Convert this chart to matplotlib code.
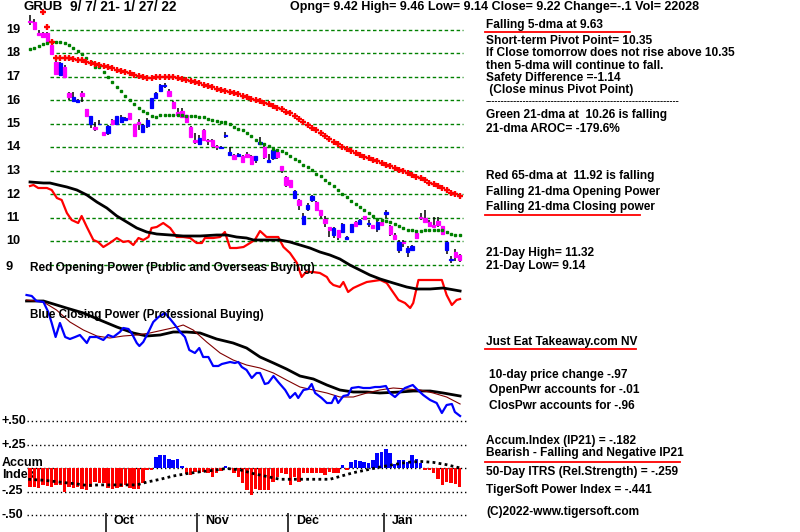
import matplotlib
matplotlib.use("Agg")
import matplotlib.pyplot as plt
from matplotlib.lines import Line2D

# ---------------- data ----------------
ticker = "GRUB"
date_range = "9/ 7/ 21- 1/ 27/ 22"
quote_line = "Opng= 9.42 High= 9.46 Low= 9.14 Close= 9.22 Change=-.1 Vol= 22028"

opens = [19.40, 19.35, 18.88, 18.86, 18.86, 18.36, 17.65, 17.08, 17.44, 16.33,
         15.99, 15.92, 16.33, 15.63, 15.02, 14.88, 14.98, 14.64, 14.60, 15.16,
         15.00, 15.10, 15.18, 15.45, 14.98, 15.10, 14.66, 14.90, 15.66, 16.09,
         16.41, 16.62, 16.41, 15.94, 15.52, 15.55, 15.38, 14.88, 14.34, 14.17,
         14.76, 14.32, 14.34, 14.08, 13.98, 14.50, 13.70, 13.67, 13.65, 13.64,
         13.72, 13.63, 13.45, 14.14, 14.00, 13.40, 13.57, 13.81, 13.20, 12.74,
         12.60, 11.87, 11.78, 10.75, 11.40, 11.75, 11.68, 11.32, 10.94, 10.60,
         10.26, 10.47, 10.40, 10.12, 10.40, 10.83, 10.76, 11.07, 10.74, 10.70,
         10.54, 10.83, 11.18, 10.64, 10.26, 9.62, 9.98, 9.55, 9.62, 10.36,
         11.05, 11.02, 10.85, 10.72, 10.86, 10.64, 9.65, 9.20, 9.55, 9.42]
closes = [19.33, 19.04, 18.80, 18.70, 18.50, 18.00, 17.11, 17.60, 17.00, 16.16,
          16.16, 16.02, 16.20, 15.35, 15.33, 14.78, 15.02, 14.52, 14.93, 14.99,
          15.33, 15.30, 15.24, 15.23, 14.50, 15.00, 14.95, 15.19, 16.09, 16.33,
          16.65, 16.68, 16.20, 15.66, 15.37, 15.30, 15.09, 14.45, 14.24, 14.42,
          14.34, 14.28, 14.05, 14.02, 14.04, 14.55, 13.81, 13.49, 13.72, 13.38,
          13.60, 13.29, 13.63, 14.24, 13.60, 13.48, 13.88, 13.60, 13.05, 12.39,
          12.32, 12.15, 11.54, 11.07, 11.54, 11.93, 11.32, 11.11, 10.80, 10.48,
          10.57, 10.19, 10.73, 10.18, 10.73, 10.66, 10.93, 10.95, 10.80, 10.56,
          10.83, 10.70, 11.24, 10.30, 10.09, 9.97, 9.92, 9.74, 9.80, 10.14,
          10.98, 10.85, 10.68, 10.60, 10.70, 10.30, 9.97, 9.25, 9.32, 9.22]
highs = [19.64, 19.45, 19.00, 18.90, 18.90, 18.40, 17.72, 17.65, 17.50, 16.37,
         16.37, 16.05, 16.40, 15.65, 15.36, 15.10, 15.15, 14.66, 14.95, 15.20,
         15.36, 15.38, 15.30, 15.47, 15.00, 15.20, 15.00, 15.25, 16.12, 16.36,
         16.72, 16.75, 16.51, 15.98, 15.66, 15.66, 15.40, 14.90, 14.60, 14.54,
         14.78, 14.38, 14.38, 14.10, 14.06, 14.66, 14.03, 13.72, 13.75, 13.66,
         13.80, 13.66, 13.65, 14.45, 14.05, 13.74, 13.92, 13.88, 13.22, 12.80,
         12.62, 12.20, 11.80, 11.20, 11.62, 11.97, 11.72, 11.34, 11.10, 10.62,
         10.60, 10.50, 10.78, 10.25, 10.76, 10.86, 10.96, 11.10, 10.90, 10.72,
         10.95, 10.88, 11.32, 10.72, 10.36, 10.06, 10.05, 9.80, 9.84, 10.40,
         11.20, 11.32, 10.90, 11.03, 11.05, 10.68, 10.02, 9.40, 9.69, 9.46]
lows = [19.21, 18.98, 18.78, 18.64, 18.45, 17.95, 17.08, 17.05, 16.98, 16.00,
        15.97, 15.88, 15.95, 15.30, 14.85, 14.70, 14.95, 14.48, 14.55, 14.95,
        14.98, 15.05, 15.15, 15.20, 14.50, 14.75, 14.60, 14.85, 15.62, 16.05,
        16.38, 16.55, 16.18, 15.62, 15.30, 15.28, 15.05, 14.42, 14.17, 14.12,
        14.30, 14.10, 14.00, 13.90, 13.96, 14.42, 13.67, 13.45, 13.60, 13.35,
        13.56, 13.27, 13.34, 14.10, 13.50, 13.38, 13.45, 13.50, 12.90, 12.32,
        12.30, 11.85, 11.32, 10.70, 11.30, 11.68, 11.28, 11.00, 10.62, 10.20,
        10.15, 10.07, 10.35, 10.08, 10.38, 10.62, 10.74, 10.90, 10.62, 10.52,
        10.40, 10.66, 10.98, 10.22, 10.05, 9.50, 9.75, 9.36, 9.58, 10.10,
        10.90, 10.80, 10.60, 10.57, 10.62, 10.28, 9.45, 9.10, 9.15, 9.14]

ma21 = [18.18, 18.25, 18.33, 18.39, 18.46, 18.47, 18.50, 18.50, 18.46, 18.36,
        18.25, 18.12, 17.98, 17.82, 17.62, 17.44, 17.41, 17.22, 17.01, 16.80,
        16.58, 16.40, 16.20, 16.01, 15.84, 15.69, 15.55, 15.45, 15.35, 15.30,
        15.38, 15.40, 15.40, 15.38, 15.40, 15.38, 15.35, 15.35, 15.33, 15.30,
        15.30, 15.23, 15.16, 15.12, 15.09, 15.07, 14.99, 14.88, 14.80, 14.74,
        14.60, 14.48, 14.31, 14.20, 14.14, 14.05, 13.95, 13.88, 13.85, 13.77,
        13.63, 13.53, 13.43, 13.27, 13.17, 13.03, 12.88, 12.77, 12.60, 12.48,
        12.35, 12.18, 12.04, 11.89, 11.72, 11.58, 11.46, 11.32, 11.21, 11.07,
        10.97, 10.90, 10.86, 10.83, 10.76, 10.64, 10.57, 10.50, 10.47, 10.44,
        10.44, 10.50, 10.50, 10.50, 10.50, 10.47, 10.40, 10.33, 10.29, 10.26]
ma65 = [None, None, None, 19.78, 19.14, 18.50, 17.82, 17.82, 17.82, 17.79,
        17.76, 17.73, 17.71, 17.65, 17.58, 17.55, 17.51, 17.46, 17.41, 17.37,
        17.31, 17.27, 17.20, 17.15, 17.08, 17.04, 17.01, 16.97, 16.97, 17.00,
        17.01, 17.01, 17.00, 16.98, 16.95, 16.92, 16.88, 16.84, 16.79, 16.74,
        16.68, 16.63, 16.57, 16.51, 16.46, 16.41, 16.36, 16.31, 16.26, 16.20,
        16.15, 16.08, 16.02, 15.97, 15.90, 15.84, 15.76, 15.70, 15.62, 15.52,
        15.45, 15.35, 15.23, 15.09, 14.95, 14.83, 14.74, 14.62, 14.50, 14.35,
        14.24, 14.14, 14.02, 13.92, 13.84, 13.77, 13.67, 13.60, 13.55, 13.46,
        13.41, 13.34, 13.27, 13.20, 13.13, 13.03, 13.00, 12.92, 12.84, 12.74,
        12.70, 12.60, 12.50, 12.46, 12.36, 12.28, 12.20, 12.08, 12.00, 11.92]
price_ticks = [19, 18, 17, 16, 15, 14, 13, 12, 11, 10, 9]

# Opening power (red) and its moving average (black)
op_days = [0, 0.8, 1.9, 3.9, 5.0, 6.2, 7.3, 8.5, 9.6, 11.1, 11.9, 13.1, 14.6, 15.7, 16.9,
           18.4, 20.0, 21.5, 22.7, 23.8, 25.0, 26.1, 27.3, 28.0, 29.2, 30.7, 32.3, 33.8,
           35.3, 36.9, 38.4, 39.6, 40.3, 42.2, 43.8, 44.9, 46.1, 47.6, 49.2, 50.7, 51.8,
           53.0, 54.5, 56.1, 57.2, 58.4, 59.9, 61.5, 62.6, 63.6, 65.2, 66.8, 68.4, 69.1,
           69.9, 71.4, 72.2, 73.3, 74.5, 76.0, 77.6, 80.7, 82.2, 83.3, 84.9, 86.4, 87.6,
           88.3, 89.5, 92.9, 94.9, 96.0, 97.2, 98.3, 99.1]
op_vals = [1.14, 1.15, 1.12, 1.12, 1.10, 1.02, 1.00, 0.87, 0.80, 0.77, 0.84, 0.73, 0.60,
           0.58, 0.53, 0.57, 0.62, 0.58, 0.59, 0.55, 0.62, 0.60, 0.63, 0.72, 0.73, 0.77,
           0.72, 0.63, 0.63, 0.62, 0.57, 0.57, 0.62, 0.62, 0.63, 0.68, 0.52, 0.52, 0.53,
           0.57, 0.60, 0.69, 0.63, 0.63, 0.63, 0.53, 0.47, 0.37, 0.23, 0.28, 0.28, 0.27,
           0.23, 0.18, 0.15, 0.13, 0.18, 0.08, 0.12, 0.15, 0.18, 0.20, 0.17, 0.10, 0.00,
           -0.03, -0.08, -0.03, 0.20, 0.20, 0.20, 0.05, -0.05, 0.00, 0.01]
opma_days = [0, 3.1, 4.6, 6.5, 8.5, 10.8, 13.1, 15.4, 17.7, 20.0, 22.3, 24.6, 26.9, 29.2,
             32.3, 35.3, 39.2, 43.0, 45.3, 47.6, 49.9, 51.5, 54.5, 57.6, 59.9, 62.2, 64.5,
             66.8, 69.1, 71.4, 73.7, 76.0, 78.3, 80.7, 83.7, 86.8, 89.1, 92.2, 95.2, 99.1]
opma_vals = [1.18, 1.17, 1.17, 1.15, 1.13, 1.10, 1.05, 0.98, 0.92, 0.84, 0.78, 0.72, 0.68,
             0.66, 0.65, 0.64, 0.64, 0.65, 0.65, 0.63, 0.62, 0.60, 0.60, 0.60, 0.58, 0.55,
             0.52, 0.48, 0.45, 0.41, 0.35, 0.30, 0.25, 0.21, 0.17, 0.13, 0.11, 0.11, 0.12, 0.09]

# Closing power (blue), its fast (brown) and slow (black) averages
cp_days = [-0.8, 0.4, 1.5, 3.1, 4.2, 5.0, 5.9, 6.9, 8.1, 9.2, 10.4, 11.5, 13.1, 13.8, 15.4,
           16.9, 18.0, 19.2, 20.7, 21.5, 22.7, 23.4, 24.6, 25.2, 26.1, 27.3, 28.4, 29.6,
           31.1, 32.3, 33.4, 34.6, 35.7, 36.7, 38.0, 39.0, 39.9, 41.1, 42.2, 43.4, 44.2,
           46.1, 47.2, 48.0, 48.8, 49.9, 51.1, 52.2, 53.0, 54.1, 54.9, 56.1, 57.2, 58.8,
           59.9, 61.1, 61.8, 63.0, 64.1, 64.9, 65.7, 67.2, 68.4, 69.5, 70.3, 71.0, 72.2,
           73.3, 74.1, 75.7, 76.8, 78.3, 79.5, 80.6, 82.0, 82.9, 84.1, 85.3, 86.4, 88.2,
           89.1, 90.6, 92.2, 93.7, 94.9, 96.0, 97.2, 97.9, 99.1]
cp_vals = [1.25, 1.24, 1.19, 1.18, 1.08, 0.97, 0.83, 0.97, 0.83, 0.81, 0.83, 0.85, 0.77,
           0.83, 0.83, 0.80, 0.85, 0.83, 0.88, 0.92, 0.91, 0.87, 0.77, 0.74, 0.78, 0.88,
           0.98, 1.03, 1.07, 1.01, 0.95, 0.88, 0.83, 0.70, 0.67, 0.72, 0.63, 0.63, 0.54,
           0.54, 0.56, 0.58, 0.57, 0.58, 0.53, 0.50, 0.42, 0.47, 0.47, 0.36, 0.37, 0.44,
           0.38, 0.30, 0.22, 0.27, 0.22, 0.30, 0.31, 0.36, 0.27, 0.22, 0.17, 0.17, 0.24,
           0.17, 0.24, 0.25, 0.32, 0.33, 0.32, 0.32, 0.33, 0.33, 0.34, 0.27, 0.23, 0.28,
           0.32, 0.35, 0.31, 0.25, 0.20, 0.17, 0.07, 0.15, 0.16, 0.08, 0.04]
cpslow_days = [-0.8, 3.1, 5.4, 8.4, 12.3, 16.1, 20.0, 23.8, 26.9, 30.0, 33.0, 36.1, 39.2,
               43.0, 46.8, 49.9, 53.0, 56.1, 59.1, 62.2, 65.3, 68.4, 71.4, 74.5, 77.6,
               80.6, 85.3, 88.3, 92.2, 95.2, 99.1]
cpslow_vals = [1.19, 1.19, 1.16, 1.12, 1.07, 1.00, 0.93, 0.87, 0.84, 0.85, 0.88, 0.88, 0.87,
               0.81, 0.77, 0.72, 0.63, 0.57, 0.51, 0.44, 0.41, 0.35, 0.30, 0.28, 0.28, 0.27,
               0.28, 0.29, 0.29, 0.27, 0.24]
cpfast_days = [-0.8, 3.1, 6.1, 9.2, 12.3, 15.4, 18.4, 21.5, 24.6, 27.6, 30.7, 33.8, 35.3,
               37.6, 40.7, 43.8, 46.8, 49.9, 53.0, 56.1, 59.1, 62.2, 65.3, 68.4, 71.4, 74.5,
               77.6, 80.6, 83.7, 86.8, 89.9, 92.9, 96.0, 99.1]
cpfast_vals = [1.20, 1.18, 1.10, 0.98, 0.90, 0.84, 0.82, 0.84, 0.85, 0.87, 0.90, 0.93, 0.95,
               0.90, 0.78, 0.67, 0.60, 0.55, 0.52, 0.47, 0.40, 0.33, 0.30, 0.27, 0.23, 0.23,
               0.27, 0.30, 0.32, 0.31, 0.30, 0.27, 0.23, 0.16]

# Accumulation index (IP21) and its average
ip21 = [-0.20, -0.20, -0.21, -0.18, -0.19, -0.20, -0.18, -0.18, -0.25, -0.20,
        -0.21, -0.20, -0.22, -0.23, -0.20, -0.15, -0.16, -0.16, -0.21, -0.22,
        -0.21, -0.20, -0.18, -0.21, -0.22, -0.22, -0.16, -0.02, -0.02, 0.12,
        0.14, 0.14, 0.10, 0.09, 0.10, 0.02, -0.06, -0.07, -0.04, -0.05,
        -0.04, -0.05, -0.10, -0.05, -0.03, 0.02, -0.02, -0.05, -0.10, -0.16,
        -0.23, -0.29, -0.22, -0.23, -0.23, -0.23, -0.15, -0.10, -0.05, -0.06,
        -0.18, -0.10, -0.15, -0.05, -0.05, -0.05, -0.05, -0.05, -0.07, -0.04,
        -0.05, -0.05, 0.03, -0.02, 0.06, 0.09, 0.07, 0.06, 0.05, 0.08,
        0.16, 0.17, 0.20, 0.16, 0.04, 0.08, 0.09, 0.06, 0.14, 0.10,
        0.05, -0.02, -0.02, -0.05, -0.12, -0.18, -0.15, -0.16, -0.17, -0.20]
ipma_days = [-0.4, 3.1, 6.9, 10.8, 13.1, 16.1, 19.2, 22.3, 24.6, 26.9, 30.0, 33.0, 36.1,
             39.2, 42.2, 45.3, 48.4, 51.5, 54.5, 57.6, 60.7, 63.7, 66.8, 69.1, 71.4, 74.5,
             77.6, 80.6, 83.7, 86.8, 89.9, 92.9, 96.0, 99.1]
ipma_vals = [-0.12, -0.13, -0.15, -0.17, -0.185, -0.18, -0.18, -0.18, -0.18, -0.15, -0.12,
             -0.085, -0.06, -0.04, -0.025, -0.005, -0.02, -0.06, -0.09, -0.12, -0.12, -0.12,
             -0.12, -0.12, -0.09, -0.05, -0.02, 0.01, 0.035, 0.06, 0.07, 0.06, 0.035, 0.0]
ip_levels = [0.50, 0.25, 0.0, -0.25, -0.50]
ip_labels = ["+.50", "+.25", "-.25", "-.50"]
ip_label_vals = [0.50, 0.25, -0.25, -0.50]

month_names = ["Oct", "Nov", "Dec", "Jan"]
month_starts = [18, 39, 60, 82]

right_texts_top = [
    "Short-term Pivot Point= 10.35",
    "If Close tomorrow does not rise above 10.35",
    "then 5-dma will continue to fall.",
    "Safety Difference =-1.14",
    " (Close minus Pivot Point)",
]

# ---------------- layout helpers ----------------
W, H = 800, 532
FONT = ["Liberation Sans", "DejaVu Sans"]
fig = plt.figure(figsize=(W / 100, H / 100), dpi=100)
fig.patch.set_facecolor("white")

XLIM = (-30 / 4.34, (W - 30) / 4.34)   # day index -> pixel x = 30 + 4.34*day
RT = 8.6                               # right-hand text size


def fx(x):
    return x / W


def fy(y):
    return 1 - y / H


def label(x, y, s, size=RT, color="black", ax=None, z=3):
    kw = dict(fontsize=size, fontweight="bold", family=FONT, va="center", ha="left",
              color=color, zorder=z)
    if ax is None:
        fig.text(fx(x), fy(y), s, **kw)
    else:
        ax.text(fx(x), fy(y), s, transform=fig.transFigure, **kw)


def underline(x0, x1, y):
    fig.add_artist(Line2D([fx(x0), fx(x1)], [fy(y), fy(y)], color="red", lw=1.3,
                          transform=fig.transFigure))


def full_axes(ylim):
    a = fig.add_axes([0, 0, 1, 1])
    a.set_xlim(*XLIM)
    a.set_ylim(*ylim)
    a.axis("off")
    a.patch.set_alpha(0)
    return a


# ---------------- price panel ----------------
axp = full_axes((19 - 502 / 23.5, 19 + 30 / 23.5))
axp.hlines(price_ticks, 4.6, 99.8, colors="#008000", linestyles=(0, (2.5, 1.8)), lw=1,
           zorder=1)
days = list(range(len(closes)))
for d, o, c, hi, lo in zip(days, opens, closes, highs, lows):
    axp.vlines(d, lo, hi, colors="black", lw=1.1, zorder=2)
    col = "#0000ff" if c > o else "#ff00ff"
    axp.bar(d, abs(c - o), bottom=min(o, c), width=0.75, color=col, edgecolor=col,
            lw=0.9, zorder=3)
axp.plot(days, ma21, ls="none", marker="s", ms=1.7, color="#008000", zorder=4)
d65 = [d for d, v in zip(days, ma65) if v is not None]
v65 = [v for v in ma65 if v is not None]
axp.plot(d65, v65, ls="none", marker="+", ms=3.8, mew=1.7, color="#ff0000", zorder=4)

for p in price_ticks:
    label(6, 30 + (19 - p) * 23.5 + (2 if p == 9 else 0), str(p), size=9.2)

# ---------------- opening power ----------------
axo = full_axes((-(H - 300) / 100, 3.0))
axo.plot(op_days, op_vals, color="#ff0000", lw=1.6)
axo.plot(opma_days, opma_vals, color="black", lw=2.0)

# ---------------- closing power ----------------
axc = full_axes((-(H - 420) / 100, 4.2))
axc.plot(cp_days, cp_vals, color="#0000ff", lw=1.6, zorder=3)
axc.plot(cpslow_days, cpslow_vals, color="black", lw=2.0, zorder=2)
axc.plot(cpfast_days, cpfast_vals, color="#800000", lw=0.8, zorder=2)

label(30, 268, "Red Opening Power (Public and Overseas Buying)", size=8.6)
label(30, 315, "Blue Closing Power (Professional Buying)", size=8.4)

# ---------------- accumulation index ----------------
axa = full_axes((-(H - 468) / 94, 468 / 94))
axa.hlines(ip_levels, -0.8, 101, colors="black", linestyles=(0, (1, 2)), lw=1, zorder=1)
ip_cols = ["#0000ff" if v > 0 else "#ff0000" for v in ip21]
axa.bar(days, ip21, width=0.8, color=ip_cols, zorder=2)
axa.plot(ipma_days, ipma_vals, color="black", ls=(0, (1, 1.2)), lw=2.0, zorder=3)
for s, v in zip(ip_labels, ip_label_vals):
    label(2, 468 - 94 * v, s, size=9, ax=axa)
label(2, 463, "Accum", size=9, ax=axa, z=0.5)
label(2, 475, "Index", size=9, ax=axa, z=0.5)
axa.vlines([m - 0.5 for m in month_starts], -0.68, -0.48, colors="black", lw=1.1)
for m, name in zip(month_starts, month_names):
    label(30 + 4.34 * (m - 0.5) + 8, 521, name, size=9, ax=axa)

# ---------------- header & right side text ----------------
label(23, 7, ticker, size=9.6)
label(70, 7, date_range, size=9.8)
label(290, 7, quote_line, size=9)

label(486, 25, "Falling 5-dma at 9.63")
underline(485, 630, 32)
for k, s in enumerate(right_texts_top):
    label(486, 41 + 12.3 * k, s)
label(486, 102, "-" * 62, size=6.8)
label(486, 115, "Green 21-dma at  10.26 is falling")
label(486, 129, "21-dma AROC= -179.6%")
label(486, 176, "Red 65-dma at  11.92 is falling")
label(486, 192, "Falling 21-dma Opening Power")
label(486, 207, "Falling 21-dma Closing power")
underline(485, 640, 215)
label(486, 253, "21-Day High= 11.32")
label(486, 266, "21-Day Low= 9.14")

label(486, 342, "Just Eat Takeaway.com NV")
underline(485, 636, 349)
label(489, 375, "10-day price change -.97")
label(489, 390, "OpenPwr accounts for -.01")
label(489, 406, "ClosPwr accounts for -.96")
label(486, 441, "Accum.Index (IP21) = -.182")
label(486, 453, "Bearish - Falling and Negative IP21")
underline(485, 680, 462)
label(486, 472, "50-Day ITRS (Rel.Strength) = -.259")
label(486, 490, "TigerSoft Power Index = -.441")
label(486, 512, "(C)2022-www.tigersoft.com")

fig.savefig("out.png", dpi=100, facecolor="white")
